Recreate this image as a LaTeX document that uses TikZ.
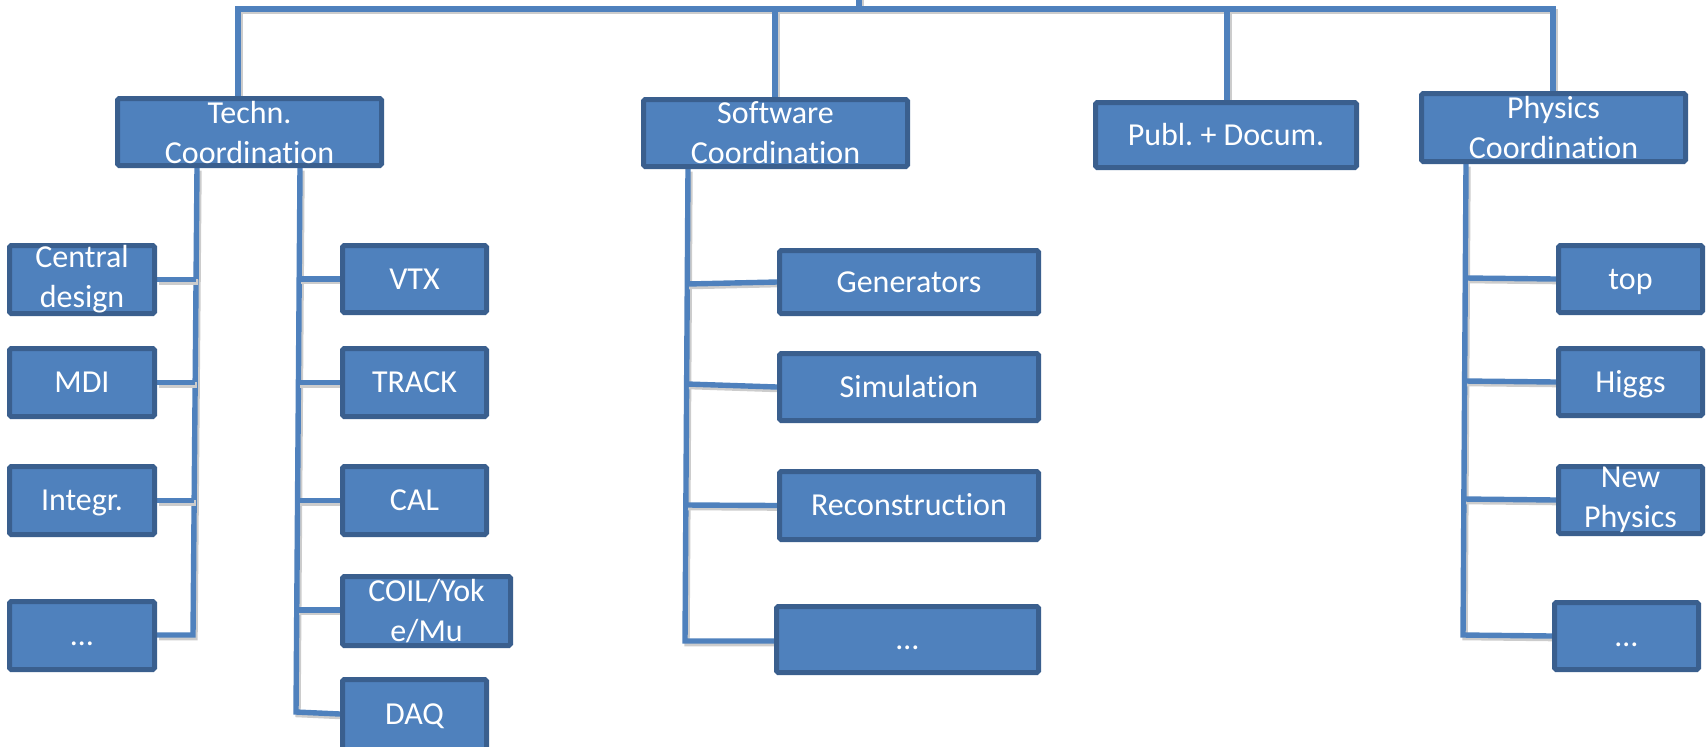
\documentclass[tikz,border=0pt]{standalone}
\usepackage{fontspec}
\setmainfont{Carlito}[Ligatures=NoCommon]
\usetikzlibrary{backgrounds,calc}
\frenchspacing
\definecolor{boxfill}{HTML}{4F81BD}
\definecolor{boxline}{HTML}{3A5F8E}
\definecolor{conn}{HTML}{4F81BD}
\tikzset{
  box/.style={draw=boxline, fill=boxfill, line width=2.5pt, rounded corners=0.8pt,
    inner sep=0pt, align=center, text=white,
    font=\fontsize{16}{20}\selectfont},
  oneline/.style={text height=10.3pt, text depth=0pt},
  link/.style={draw=conn, line width=2.7pt,
    preaction={draw=black!20, line width=2.7pt, transform canvas={xshift=1pt,yshift=-1.3pt}}}
}
\newcommand{\bx}[7][]{\node[box,#1, minimum width={(#5-#3-5)*0.5pt}, minimum height={(#6-#4-5)*0.5pt}] (#2) at ({(#3+#5)/2},{(#4+#6)/2}) {#7};}
\begin{document}
\begin{tikzpicture}[x=0.5pt,y=-0.5pt]
\useasboundingbox (0,0) rectangle (1707,746);
\clip (0,0) rectangle (1707,746);
% top level
\bx{tech}{115}{96}{384}{168}{Techn.\\Coordination}
\bx{soft}{641}{97}{910}{169}{Software\\Coordination}
\bx[oneline]{publ}{1093}{100}{1359}{170}{Publ.\ + Docum.}
\bx{phys}{1419}{91}{1688}{164}{Physics\\Coordination}
% technical, left column
\bx{cd}{7}{243}{157}{316}{Central\\design}
\bx[oneline]{mdi}{7}{346}{157}{419}{MDI}
\bx[oneline]{integ}{7}{464}{157}{537}{Integr.}
\bx[oneline]{tdots}{7}{599}{157}{672}{…}
% technical, right column
\bx[oneline]{vtx}{340}{243}{489}{315}{VTX}
\bx[oneline]{track}{340}{346}{489}{419}{TRACK}
\bx[oneline]{cal}{340}{464}{489}{537}{CAL}
\bx{coil}{340}{574}{513}{648}{COIL/Yok\\e/Mu}
\bx[oneline]{daq}{340}{677}{489}{752}{DAQ}
% software
\bx[oneline]{gen}{777}{248}{1041}{316}{Generators}
\bx[oneline]{sim}{777}{351}{1041}{423}{Simulation}
\bx[oneline]{rec}{777}{469}{1041}{542}{Reconstruction}
\bx[oneline]{sdots}{774}{604}{1041}{675}{…}
% physics
\bx[oneline]{ptop}{1556}{243}{1705}{315}{top}
\bx[oneline]{higgs}{1556}{346}{1705}{418}{Higgs}
\bx{np}{1556}{464}{1705}{536}{New\\Physics}
\bx[oneline]{pdots}{1552}{600}{1701}{672}{…}
% coordinates
\coordinate (root) at (859,-4);
\coordinate (bus) at (859,9);
\coordinate (tl) at (197,0);
\coordinate (tr) at (300,0);
\coordinate (sw) at (688,0);
\coordinate (ph) at (1466,0);
\begin{scope}[on background layer]
% bus
\draw[link] (root) -- (bus);
\draw[link] (tech.north -| 238,0) |- (bus) -| (phys.north -| 1553,0);
\draw[link] (bus -| 775,0) -- (soft.north -| 775,0);
\draw[link] (bus -| 1227,0) -- (publ.north -| 1227,0);
% technical left trunk
\draw[link] (tech.south -| tl) -- (193,635) -- (tdots.east |- 0,635);
\draw[link] (cd.east) -- (cd.east -| 196,0);
\draw[link] (mdi.east) -- (mdi.east -| 195,0);
\draw[link] (integ.east) -- (integ.east -| 194,0);
% technical right trunk
\draw[link] (tech.south -| tr) -- (296,712) -- (daq.west |- 0,714);
\draw[link] (vtx.west) -- (vtx.west -| 299,0);
\draw[link] (track.west) -- (track.west -| 298,0);
\draw[link] (cal.west) -- (cal.west -| 298,0);
\draw[link] (coil.west |- 0,610) -- (297,610);
% software trunk
\draw[link] (soft.south -| sw) -- (685,641) -- (sdots.west |- 0,641);
\draw[link] (gen.west) -- (687,284);
\draw[link] (sim.west) -- (687,384);
\draw[link] (rec.west) -- (686,505);
% physics trunk
\draw[link] (phys.south -| ph) -- (1463,635) -- (pdots.west |- 0,636);
\draw[link] (ptop.west) -- (1466,278);
\draw[link] (higgs.west) -- (1465,381);
\draw[link] (np.west) -- (1464,499);
\end{scope}
\end{tikzpicture}
\end{document}
